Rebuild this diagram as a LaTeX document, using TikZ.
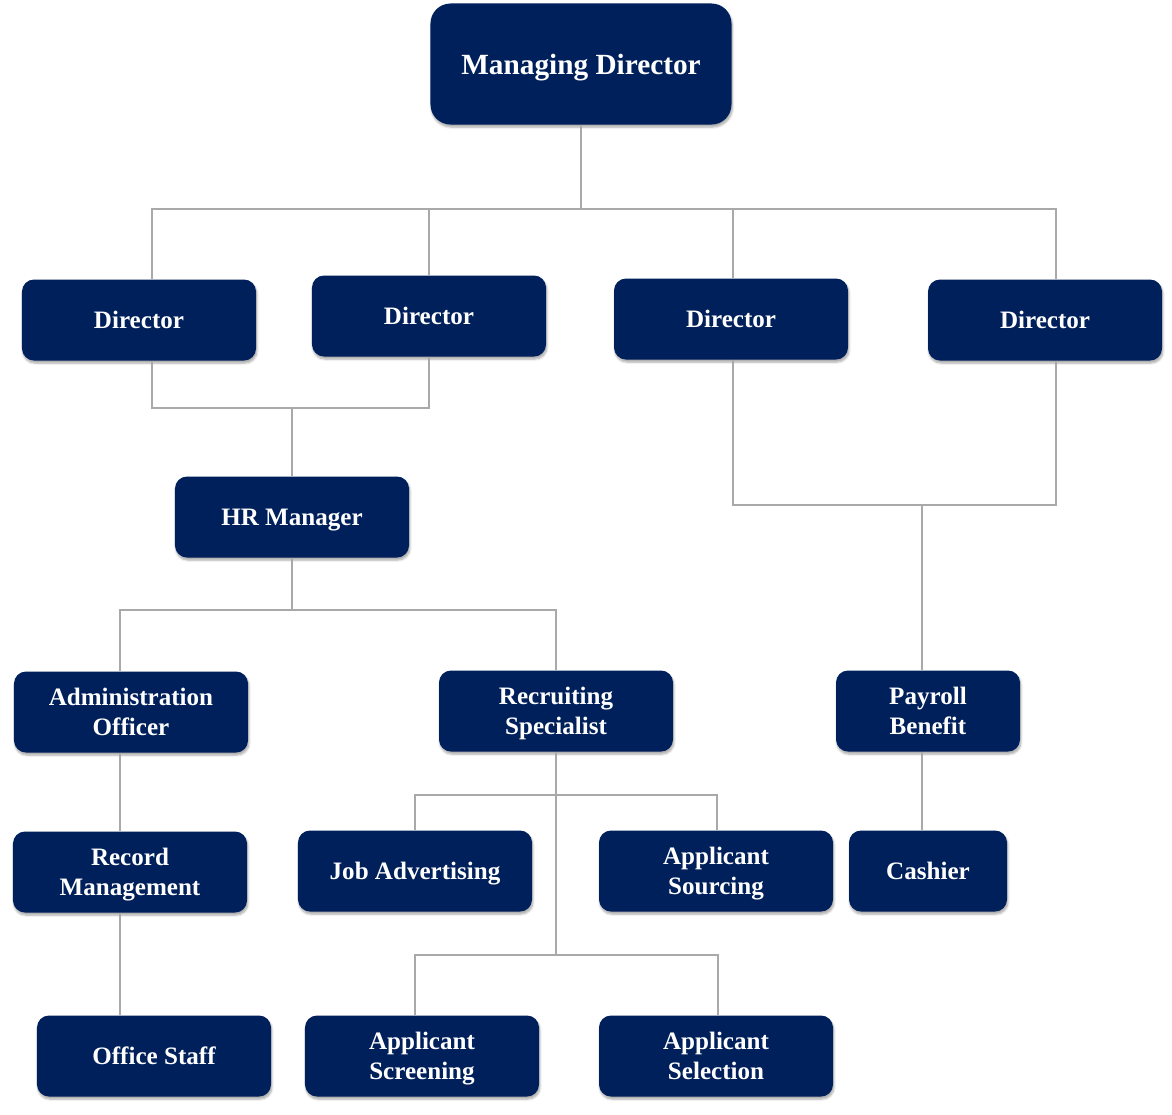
\documentclass[tikz,border=0pt]{standalone}
\usepackage{fontspec}
\setmainfont{Liberation Serif}
\usetikzlibrary{positioning}
\usetikzlibrary{shadows.blur}
\definecolor{boxnavy}{HTML}{00205B}
\definecolor{linkgray}{HTML}{A9A9A9}
\tikzset{box/.style = {fill=boxnavy, text=white, rounded corners=0.36cm,
    minimum width=7.02cm, minimum height=2.43cm, align=center,
    font=\bfseries\fontsize{21.4}{25.6}\selectfont, text depth=-1.5pt,
    blur shadow={shadow xshift=0.8pt, shadow yshift=-2.2pt,
                 shadow blur steps=6, shadow opacity=35}}}
\tikzset{link/.style = {draw=linkgray, line width=2.5pt}}

\begin{document}
\begin{tikzpicture}[x=0.03cm, y=-0.03cm]
      \useasboundingbox (0,0) rectangle (1172,1114);
      % boxes
      \node[box, minimum width=9.03cm, minimum height=3.63cm, rounded corners=0.6cm,
            font=\bfseries\fontsize{25}{29}\selectfont] (md) at (581,64) {Managing Director};
      \node[box] (d1) at (139,320) {Director};
      \node[box] (d2) at (429,316) {Director};
      \node[box] (d3) at (731,319) {Director};
      \node[box] (d4) at (1045,320) {Director};
      \node[box] (hr) at (292,517) {HR Manager};
      \node[box] (admin) at (131,712) {Administration\\Officer};
      \node[box] (recruit) at (556,711) {Recruiting\\Specialist};
      \node[box, minimum width=5.52cm] (payroll) at (928,711) {Payroll\\Benefit};
      \node[box] (record) at (130,872) {Record\\Management};
      \node[box] (jobadv) at (415,871) {Job Advertising};
      \node[box] (source) at (716,871) {Applicant\\Sourcing};
      \node[box, minimum width=4.74cm] (cashier) at (928,871) {Cashier};
      \node[box] (staff) at (154,1056) {Office Staff};
      \node[box] (screen) at (422,1056) {Applicant\\Screening};
      \node[box] (select) at (716,1056) {Applicant\\Selection};
      % junctions
      \coordinate (jmd) at (581,209);
      \coordinate (jhr) at (292,408);
      \coordinate (jpay) at (922,505);
      \coordinate (jadm) at (292,610);
      \coordinate (jrec1) at (556,795);
      \coordinate (jrec2) at (556,955);
      % connectors
      \draw[link] (md.south) -- (jmd);
      \draw[link] (jmd) -| (d1.north -| 152,0);
      \draw[link] (jmd) -| (d2.north -| 429,0);
      \draw[link] (jmd) -| (d3.north -| 733,0);
      \draw[link] (jmd) -| (d4.north -| 1056,0);
      \draw[link] (d1.south -| 152,0) |- (jhr);
      \draw[link] (d2.south -| 429,0) |- (jhr);
      \draw[link] (jhr) -- (hr.north);
      \draw[link] (d3.south -| 733,0) |- (jpay);
      \draw[link] (d4.south -| 1056,0) |- (jpay);
      \draw[link] (jpay) -- (payroll.north -| jpay);
      \draw[link] (hr.south) -- (jadm);
      \draw[link] (jadm) -| (admin.north -| 120,0);
      \draw[link] (jadm) -| (recruit.north);
      \draw[link] (admin.south -| 120,0) -- (record.north -| 120,0);
      \draw[link] (record.south -| 120,0) -- (staff.north -| 120,0);
      \draw[link] (recruit.south) -- (jrec2);
      \draw[link] (jrec1) -| (jobadv.north);
      \draw[link] (jrec1) -| (source.north -| 717,0);
      \draw[link] (jrec2) -| (screen.north -| 415,0);
      \draw[link] (jrec2) -| (select.north -| 718,0);
      \draw[link] (payroll.south -| jpay) -- (cashier.north -| jpay);
\end{tikzpicture}
\end{document}
